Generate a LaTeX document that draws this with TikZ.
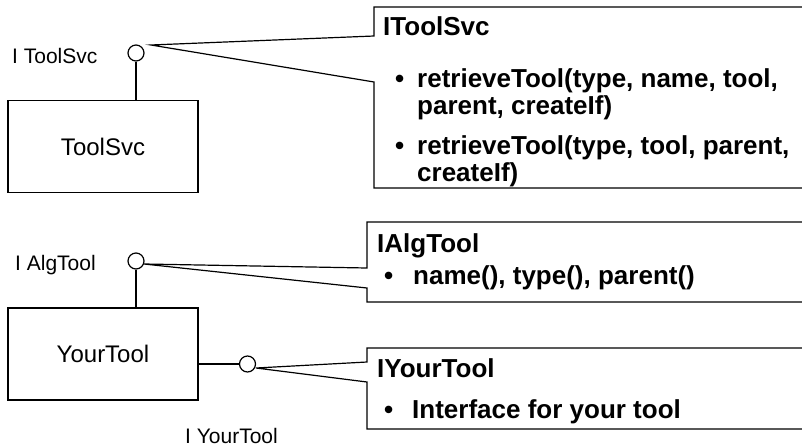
\documentclass[tikz,border=0pt]{standalone}
\usepackage{fontspec}
\setmainfont{Liberation Sans}

\tikzset{
	comp/.style={draw, line width=1.2pt, minimum width=190pt, minimum height=92pt, inner sep=0pt, font=\fontsize{24}{28}\selectfont},
	lolli/.style={draw, line width=1.2pt, circle, minimum size=16pt, inner sep=0pt, fill=white},
	iname/.style={anchor=base west, inner sep=0pt, font=\fontsize{21}{25}\selectfont},
	callout/.style={draw, line width=1.2pt, fill=white, line join=miter},
	ctext/.style={anchor=base west, inner sep=0pt, font=\fontsize{26}{30}\selectfont\bfseries},
}

\begin{document}
	\begin{tikzpicture}[x=1pt, y=-1pt]
		\clip (0,0) rectangle (802,447);
		\begin{scope}
			% ToolSvc et son interface
			\node[comp] (toolsvc) at (103,146.5) {ToolSvc};
			\node[lolli] (itoolsvc) at (136,53) {};
			\node[iname] (itoolsvclbl) at (12,63) {I ToolSvc};
			\draw [line width=1.2pt] (itoolsvc) -- (itoolsvc |- toolsvc.north);
			
			\coordinate (T0) at (151,45);
			\coordinate (T1) at (374,36);
			\coordinate (T2) at (374,7);
			\coordinate (T3) at (815,7);
			\coordinate (T4) at (815,188);
			\coordinate (T5) at (374,188);
			\coordinate (T6) at (374,82);
			\draw [callout] (T1) -- (T2) -- (T3) -- (T4) -- (T5) -- (T6) -- (T0) -- cycle;
			
			\node[ctext] (svctitle) at (383,35) {IToolSvc};
			\node[ctext] (svcb1) at (395,87) {\textbullet};
			\node[ctext] (svcl1) at (417,87) {retrieveTool(type, name, tool,};
			\node[ctext] (svcl2) at (417,114) {parent, createIf)};
			\node[ctext] (svcb2) at (395,154) {\textbullet};
			\node[ctext] (svcl3) at (417,154) {retrieveTool(type, tool, parent,};
			\node[ctext] (svcl4) at (417,181) {createIf)};
		\end{scope}
		\begin{scope}
			% YourTool et ses deux interfaces
			\node[comp] (yourtool) at (103,354) {YourTool};
			\node[lolli] (ialgtool) at (136,261) {};
			\node[iname] (ialgtoollbl) at (15,270) {I AlgTool};
			\draw [line width=1.2pt] (ialgtool) -- (ialgtool |- yourtool.north);
			\node[lolli] (iyourtool) at (247.5,364) {};
			\node[iname] (iyourtoollbl) at (185,443) {I YourTool};
			\draw [line width=1.2pt] (yourtool.east |- iyourtool) -- (iyourtool);
			
			\coordinate (A0) at (144,264);
			\coordinate (A1) at (367,268);
			\coordinate (A2) at (367,222);
			\coordinate (A3) at (815,222);
			\coordinate (A4) at (815,302);
			\coordinate (A5) at (367,302);
			\coordinate (A6) at (367,288);
			\draw [callout] (A1) -- (A2) -- (A3) -- (A4) -- (A5) -- (A6) -- (A0) -- cycle;
			
			\node[ctext] (algtitle) at (377,252) {IAlgTool};
			\node[ctext] (algb1) at (384,284) {\textbullet};
			\node[ctext] (algl1) at (413,284) {name(), type(), parent()};
			
			\coordinate (Y0) at (256,368);
			\coordinate (Y1) at (367,362);
			\coordinate (Y2) at (367,348);
			\coordinate (Y3) at (815,348);
			\coordinate (Y4) at (815,429);
			\coordinate (Y5) at (367,429);
			\coordinate (Y6) at (367,382);
			\draw [callout] (Y1) -- (Y2) -- (Y3) -- (Y4) -- (Y5) -- (Y6) -- (Y0) -- cycle;
			
			\node[ctext] (yourtitle) at (377,377) {IYourTool};
			\node[ctext] (yourb1) at (384,418) {\textbullet};
			\node[ctext] (yourl1) at (412,418) {Interface for your tool};
		\end{scope}
	\end{tikzpicture}
\end{document}
